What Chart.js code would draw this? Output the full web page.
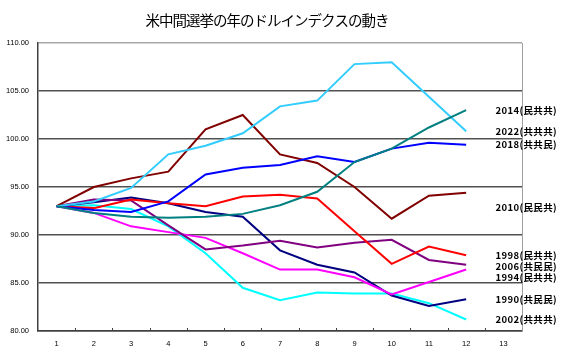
<!DOCTYPE html>
<html>
<head>
<meta charset="utf-8">
<script src="https://cdn.jsdelivr.net/npm/chart.js@4.4.1/dist/chart.umd.min.js"></script>
<style>
  html, body { margin: 0; padding: 0; background: #fff; }
  #wrap { width: 567px; height: 359px; }
</style>
</head>
<body>
<div id="wrap"><canvas id="chartDollar" width="567" height="359"></canvas></div>
<script>
// --- données (indice dollar, mois 1..12) ---
const months = ['1', '2', '3', '4', '5', '6', '7', '8', '9', '10', '11', '12', '13'];
const title = '米中間選挙の年のドルインデクスの動き';

const d1990 = [93.0, 93.4, 93.9, 93.3, 92.4, 91.9, 88.4, 86.9, 86.1, 83.7, 82.6, 83.3];
const d1994 = [93.0, 92.3, 90.9, 90.3, 89.7, 88.1, 86.4, 86.4, 85.6, 83.8, 85.1, 86.4];
const d1998 = [93.0, 92.8, 93.7, 93.3, 93.0, 94.0, 94.2, 93.8, 90.4, 87.0, 88.8, 87.9];
const d2002 = [93.0, 93.1, 92.7, 90.9, 88.1, 84.5, 83.2, 84.0, 83.9, 83.9, 82.9, 81.2];
const d2006 = [93.0, 93.7, 93.6, 91.0, 88.5, 88.9, 89.4, 88.7, 89.2, 89.5, 87.4, 86.9];
const d2010 = [93.0, 95.0, 95.9, 96.6, 101.0, 102.5, 98.4, 97.5, 95.0, 91.7, 94.1, 94.4];
const d2014 = [93.0, 92.3, 91.9, 91.8, 91.9, 92.2, 93.1, 94.5, 97.6, 99.0, 101.2, 103.0];
const d2018 = [93.0, 92.6, 92.4, 93.5, 96.3, 97.0, 97.3, 98.2, 97.6, 99.0, 99.6, 99.4];
const d2022 = [93.0, 93.5, 94.9, 98.4, 99.3, 100.6, 103.4, 104.0, 107.8, 108.0, 104.4, 100.8];

const yTicks = [80, 85, 90, 95, 100, 105, 110];

const line = (label, data, color, extra) => Object.assign({
    label, data, borderColor: color, backgroundColor: color,
    borderWidth: 2, pointRadius: 0, tension: 0, fill: false
}, extra || {});

// titre + étiquettes à droite + petites graduations
const decor = {
    id: 'decor',
    afterDatasetsDraw(chart) {
        const ctx = chart.ctx;
        const area = chart.chartArea;
        const xs = chart.scales.x;

        ctx.save();
        // bord droit
        ctx.strokeStyle = '#a0a0a0';
        ctx.lineWidth = 1;
        ctx.beginPath();
        ctx.moveTo(Math.round(area.right) + 0.5, area.top);
        ctx.lineTo(Math.round(area.right) + 0.5, area.bottom);
        ctx.stroke();

        // graduations vers l'intérieur
        const step = (area.right - area.left) / months.length;
        ctx.strokeStyle = '#404040';
        ctx.beginPath();
        for (let i = 1; i < months.length; i++) {
            const x = Math.round(area.left + i * step) + 0.5;
            ctx.moveTo(x, area.bottom);
            ctx.lineTo(x, area.bottom - 3);
        }
        ctx.stroke();

        // étiquettes des séries
        const items = chart.data.datasets.map((ds, i) => {
            const pts = chart.getDatasetMeta(i).data;
            return { text: ds.label, y: pts[pts.length - 1].y + (ds.labelNudge || 0) };
        }).sort((a, b) => a.y - b.y);
        let prev = -Infinity;
        ctx.font = 'bold 9.5px "Noto Sans CJK JP"';
        ctx.letterSpacing = '0.4px';
        ctx.fillStyle = '#000';
        ctx.textAlign = 'left';
        ctx.textBaseline = 'middle';
        items.forEach(it => {
            const y = Math.max(it.y, prev + 11);
            ctx.fillText(it.text, xs.getPixelForValue(12) - 8, y);
            prev = y;
        });

        // titre
        ctx.font = '14.5px "Noto Sans CJK JP"';
        ctx.letterSpacing = '-1px';
        ctx.textAlign = 'center';
        ctx.fillText(title, 267, 20);
        ctx.restore();
    }
};

new Chart(document.getElementById('chartDollar'), {
    type: 'line',
    data: {
        labels: months,
        datasets: [
            line('2014(民共共)', d2014, '#008080'),
            line('2022(共共共)', d2022, '#33CCFF'),
            line('2018(共共民)', d2018, '#0000FF'),
            line('2010(民民共)', d2010, '#800000', { labelNudge: 15 }),
            line('1998(民共共)', d1998, '#FF0000'),
            line('2006(共民民)', d2006, '#800080'),
            line('1994(民共共)', d1994, '#FF00FF'),
            line('1990(共民民)', d1990, '#000080'),
            line('2002(共共共)', d2002, '#00FFFF')
        ]
    },
    options: {
        responsive: false,
        animation: false,
        layout: { padding: { top: 43, right: 45, left: 0, bottom: 0 } },
        plugins: { legend: { display: false }, tooltip: { enabled: false }, title: { display: false } },
        scales: {
            x: {
                offset: true,
                grid: { drawOnChartArea: false, drawTicks: false },
                border: { color: '#404040', width: 1.5 },
                ticks: { color: '#000', font: { family: 'Liberation Sans', size: 7.5 }, padding: 8, maxRotation: 0 },
                afterFit: s => { s.height = 28; }
            },
            y: {
                min: 80, max: 110,
                afterBuildTicks: s => { s.ticks = yTicks.map(v => ({ value: v })); },
                grid: {
                    drawTicks: false,
                    lineWidth: 1.5,
                    color: c => c.tick && c.tick.value === 110 ? '#a8a8a8' : '#505050'
                },
                border: { color: '#404040', width: 1.5 },
                ticks: {
                    color: '#000', font: { family: 'Liberation Sans', size: 7.5 }, padding: 9,
                    callback: v => v.toFixed(2)
                },
                afterFit: s => { s.width = 38; }
            }
        }
    },
    plugins: [decor]
});
</script>
</body>
</html>
